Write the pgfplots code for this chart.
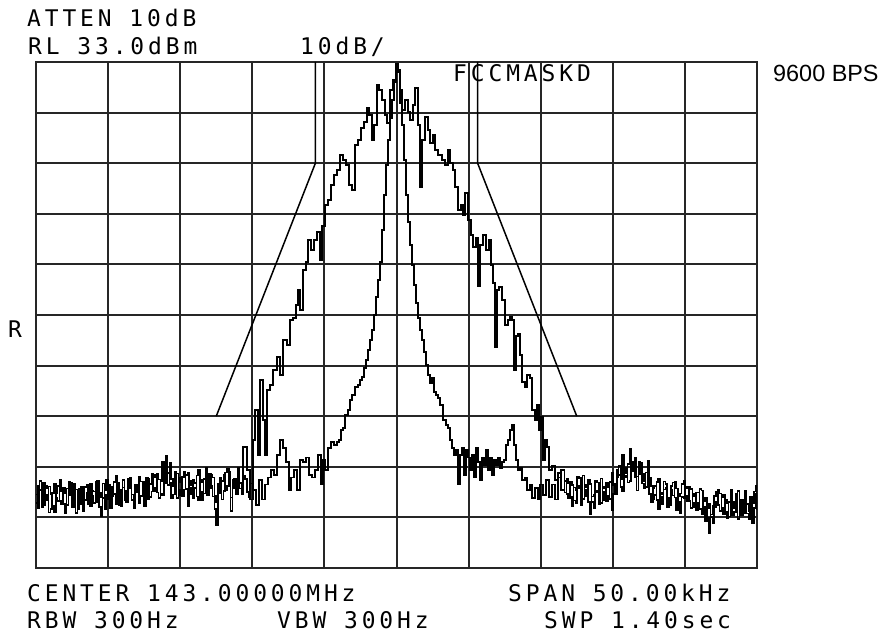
\documentclass[border=0pt]{standalone}
\usepackage{pgfplots}
\pgfplotsset{compat=1.18}
\usepackage{fontspec}
\newfontfamily\hpfont{DejaVu Sans Mono}[LetterSpace=17]
\newfontfamily\arialfont{Liberation Sans}
\newcommand{\hp}{\hpfont\fontsize{23}{26}\selectfont}
\begin{document}
\begin{tikzpicture}[x=1bp,y=1bp]
\useasboundingbox (0,0) rectangle (892,637);
\begin{axis}[
  at={(36bp,69bp)}, anchor=south west,
  scale only axis, width=721bp, height=506bp,
  xmin=-25, xmax=25, ymin=-67, ymax=33,
  xtick={-25,-20,...,25}, ytick={-67,-57,...,33},
  xticklabels={}, yticklabels={},
  major tick length=0pt,
  grid=major,
  major grid style={draw=black!85, line width=2bp},
  axis line style={draw=black!85, line width=2.1bp},
  clip=true,
]
% FCC mask D
\addplot[black, line width=1.5bp] coordinates {(-12.5,-37) (-5.625,13) (-5.625,33)};
\addplot[black, line width=1.5bp] coordinates {(12.5,-37) (5.625,13) (5.625,33)};
% wide (9600 BPS modulated) trace
\addplot[const plot, black, line width=1.6bp] coordinates {
(-25,-52.5) (-24.875,-55.1) (-24.75,-49.8) (-24.625,-52.9) (-24.5,-54.6) (-24.375,-50.7) (-24.25,-51.2) (-24.125,-56.0)
(-24,-55.3) (-23.875,-52.2) (-23.75,-50.4) (-23.625,-53.1) (-23.5,-53.8) (-23.375,-49.6) (-23.25,-51.9) (-23.125,-54.4)
(-23,-56.2) (-22.875,-51.3) (-22.75,-52.7) (-22.625,-50.2) (-22.5,-54.9) (-22.375,-53.0) (-22.25,-51.5) (-22.125,-55.4)
(-22,-53.3) (-21.875,-50.9) (-21.75,-55.8) (-21.625,-53.6) (-21.5,-52.1) (-21.375,-54.3) (-21.25,-50.3) (-21.125,-52.8)
(-21,-54.2) (-20.875,-49.9) (-20.75,-52.6) (-20.625,-55.0) (-20.5,-56.8) (-20.375,-53.2) (-20.25,-51.7) (-20.125,-49.5)
(-20,-53.5) (-19.875,-55.2) (-19.75,-50.9) (-19.625,-52.4) (-19.5,-54.4) (-19.375,-50.1) (-19.25,-52) (-19.125,-54.7)
(-19,-49.6) (-18.875,-51.8) (-18.75,-53.9) (-18.625,-49.3) (-18.5,-51.3) (-18.375,-53.6) (-18.25,-55.1) (-18.125,-52.0)
(-18,-50.7) (-17.875,-54.1) (-17.75,-52.8) (-17.625,-50.0) (-17.5,-54.7) (-17.375,-51.6) (-17.25,-49.4) (-17.125,-53.0)
(-17,-51.9) (-16.875,-49.0) (-16.75,-48.6) (-16.625,-52.1) (-16.5,-53.2) (-16.375,-49.8) (-16.25,-46.1) (-16.125,-50.3)
(-16,-44.9) (-15.875,-48.2) (-15.75,-50.2) (-15.625,-53.3) (-15.5,-52.5) (-15.375,-49.1) (-15.25,-48.3) (-15.125,-52.7)
(-15,-51.6) (-14.875,-49.0) (-14.75,-47.9) (-14.625,-51.4) (-14.5,-54.8) (-14.375,-50.6) (-14.25,-49.7) (-14.125,-53.2)
(-14,-51.2) (-13.875,-48.7) (-13.75,-47.5) (-13.625,-51.9) (-13.5,-53.6) (-13.375,-49.4) (-13.25,-50.1) (-13.125,-52.6)
(-13,-48.4) (-12.875,-50.8) (-12.75,-52.9) (-12.625,-55.4) (-12.5,-58.6) (-12.375,-51.0) (-12.25,-49.2) (-12.125,-53.5)
(-12,-51.8) (-11.875,-48.1) (-11.75,-47.3) (-11.625,-50.9) (-11.5,-53.1) (-11.375,-49.5) (-11.25,-50.6) (-11.125,-52.2)
(-11,-48.9) (-10.875,-51.3) (-10.75,-52.4)
(-10.64,-43.1) (-10.37,-47.6) (-10.16,-53.5) (-9.95,-41.7) (-9.81,-35.8) (-9.6,-44.7) (-9.47,-29.8) (-9.26,-37.7)
(-9.12,-44.7) (-8.98,-31.8) (-8.77,-30.8) (-8.56,-27.9) (-8.29,-25.3) (-8.08,-28.8) (-7.87,-21.9) (-7.59,-22.9)
(-7.38,-18) (-7.17,-17.6) (-6.97,-15) (-6.83,-12.1) (-6.69,-16) (-6.48,-8.1) (-6.27,-6.5) (-6.14,-2.2)
(-5.93,-4.2) (-5.72,-2.2) (-5.51,-0.6) (-5.3,-6.1) (-5.17,0.6) (-4.96,4.7) (-4.75,5.7) (-4.54,8.7)
(-4.33,10.7) (-4.13,11.7) (-3.92,14.6) (-3.71,13.6) (-3.5,12.6) (-3.29,8.7) (-3.09,7.7) (-2.88,16.6)
(-2.67,17.6) (-2.46,20) (-2.25,21.1) (-2.05,23.9) (-1.91,22.5) (-1.7,17.6) (-1.56,20.5) (-1.35,28.5)
(-1.21,27.5) (-1,25.5) (-0.8,22.5) (-0.66,20.9) (-0.45,27.5) (-0.24,29.4) (-0.03,32.6) (0.1,31.4)
(0.24,24.9) (0.38,23.5) (0.59,25.5) (0.8,23.1) (0.94,21.5) (1.15,24.5) (1.28,27.9) (1.49,20.5)
(1.63,8.3) (1.77,17.6) (1.98,22.1) (2.19,19.6) (2.32,17) (2.53,18.6) (2.67,15.6) (2.88,14.6)
(3.16,13.6) (3.36,12.6) (3.57,15.6) (3.71,13) (3.92,11.7) (4.06,8.3) (4.27,3.8) (4.47,4.8)
(4.61,2.8) (4.75,7.1) (4.96,1.8) (5.17,-1.2) (5.31,-3.6) (5.52,-1.8) (5.65,-11.4) (5.79,-3.2)
(6,-1.2) (6.21,-4.2) (6.42,-2.2) (6.55,-7.1) (6.69,-10.7) (6.83,-23.3) (6.97,-12.1) (7.11,-11.5)
(7.32,-14) (7.52,-19) (7.73,-18) (7.87,-17.4) (8,-18) (8.15,-27.9) (8.29,-21.2) (8.42,-20.8)
(8.56,-24.9) (8.7,-30.2) (8.91,-31.2) (9.05,-28.8) (9.26,-29.4) (9.4,-35.8) (9.6,-37.7) (9.74,-34.8)
(9.88,-39.7) (10.02,-37.1) (10.16,-45.6) (10.3,-41.7) (10.44,-43.1) (10.58,-47.6) (10.78,-46.9) (10.99,-49.6)
(11.2,-48.2) (11.41,-51.6)
(11.65,-49.8) (11.775,-52.4) (11.9,-53.2) (12.025,-49.9) (12.15,-50.6) (12.275,-53.7) (12.4,-54.1) (12.525,-50.8)
(12.65,-51.3) (12.775,-54.5) (12.9,-48.7) (13.025,-51.5) (13.15,-52.9) (13.275,-49.6) (13.4,-50.4) (13.525,-53.9)
(13.65,-55.2) (13.775,-52.0) (13.9,-51.8) (14.025,-54.3) (14.15,-49.3) (14.275,-51.9) (14.4,-53.6) (14.525,-50.2)
(14.65,-51.1) (14.775,-53.4) (14.9,-48.2) (15.025,-50.6) (15.15,-52.4) (15.275,-49.0) (15.4,-46.9) (15.525,-49.5)
(15.65,-44.6) (15.775,-48.8) (15.9,-49.1) (16.025,-46.4) (16.15,-43.4) (16.275,-47.0) (16.4,-47.8) (16.525,-45.3)
(16.65,-51.7) (16.775,-48.5) (16.9,-46.2) (17.025,-49.9) (17.15,-48.3) (17.275,-51.0) (17.4,-45.9) (17.525,-49.2)
(17.65,-50.8) (17.775,-53.5) (17.9,-52.6) (18.025,-50.0) (18.15,-49.4) (18.275,-52.9) (18.4,-54.3) (18.525,-51.5)
(18.65,-51.2) (18.775,-55.0) (18.9,-53.7) (19.025,-50.8) (19.15,-50.1) (19.275,-53.1) (19.4,-55.6) (19.525,-52.8)
(19.65,-52.3) (19.775,-50.4) (19.9,-49.7) (20.025,-52.7) (20.15,-53.8) (20.275,-51.0) (20.4,-51.4) (20.525,-54.2)
(20.65,-54.9) (20.775,-52.1) (20.9,-52.1) (21.025,-55.4) (21.15,-56.3) (21.275,-53.8) (21.4,-53.2) (21.525,-57.0)
(21.65,-60.1) (21.775,-56.4) (21.9,-54.8) (22.025,-52.8) (22.15,-51.9) (22.275,-54.6) (22.4,-55.7) (22.525,-53.0)
(22.65,-52.6) (22.775,-55.9) (22.9,-57.1) (23.025,-54.0) (23.15,-53.4) (23.275,-56.5) (23.4,-55.9) (23.525,-52.7)
(23.65,-51.8) (23.775,-54.6) (23.9,-56.6) (24.025,-53.8) (24.15,-53.1) (24.275,-56.2) (24.4,-57.4) (24.525,-54.5)
(24.65,-54.2) (24.775,-51.9) (24.9,-50.7) (25,-55.5)
};
% narrow (carrier) trace
\addplot[const plot, black, line width=1.6bp] coordinates {
(-25,-54.1) (-24.875,-50.8) (-24.75,-51.6) (-24.625,-54.9) (-24.5,-50.2) (-24.375,-52.6) (-24.25,-53.7) (-24.125,-50.9)
(-24,-52.4) (-23.875,-54.8) (-23.75,-55.9) (-23.625,-52.3) (-23.5,-50.8) (-23.375,-53.7) (-23.25,-54.3) (-23.125,-51.2)
(-23,-52.2) (-22.875,-54.6) (-22.75,-49.9) (-22.625,-52.5) (-22.5,-53.6) (-22.375,-50.4) (-22.25,-56.1) (-22.125,-53.0)
(-22,-51.4) (-21.875,-54.4) (-21.75,-53.9) (-21.625,-51.0) (-21.5,-50.5) (-21.375,-53.3) (-21.25,-54.8) (-21.125,-51.8)
(-21,-51.9) (-20.875,-54.0) (-20.75,-49.7) (-20.625,-52.2) (-20.5,-53.1) (-20.375,-50.3) (-20.25,-55.4) (-20.125,-52.6)
(-20,-50.6) (-19.875,-53.8) (-19.75,-52.9) (-19.625,-50.0) (-19.5,-48.8) (-19.375,-51.9) (-19.25,-54.5) (-19.125,-51.6)
(-19,-51.1) (-18.875,-53.7) (-18.75,-52.3) (-18.625,-50.0) (-18.5,-49.2) (-18.375,-52.5) (-18.25,-53.4) (-18.125,-50.6)
(-18,-51.7) (-17.875,-48.9) (-17.75,-49.9) (-17.625,-52.7) (-17.5,-51.4) (-17.375,-49.2) (-17.25,-53.5) (-17.125,-50.4)
(-17,-48.3) (-16.875,-51.9) (-16.75,-51.1) (-16.625,-48.4) (-16.5,-49.5) (-16.375,-52.4) (-16.25,-52.7) (-16.125,-49.0)
(-16,-47.8) (-15.875,-50.6) (-15.75,-46.3) (-15.625,-49.4) (-15.5,-50.9) (-15.375,-48.0) (-15.25,-53.2) (-15.125,-50.1)
(-15,-49.1) (-14.875,-52.8) (-14.75,-51.5) (-14.625,-48.6) (-14.5,-48.1) (-14.375,-51.2) (-14.25,-52.4) (-14.125,-49.5)
(-14,-50.2) (-13.875,-52.9) (-13.75,-53.7) (-13.625,-50.1) (-13.5,-49.6) (-13.375,-52.3) (-13.25,-47.2) (-13.125,-50.5)
(-13,-51.3) (-12.875,-48.5) (-12.75,-49.1) (-12.625,-52.8) (-12.5,-54) (-12.375,-50.4) (-12.25,-52.2) (-12.125,-49.8)
(-12,-48.6) (-11.875,-51.6) (-11.75,-50.8) (-11.625,-48.0) (-11.5,-55.7) (-11.375,-51.2) (-11.25,-49.3) (-11.125,-52.4)
(-11,-47.1) (-10.875,-50.2) (-10.75,-51.6) (-10.625,-48.7) (-10.5,-49.4) (-10.375,-52.0) (-10.25,-53.1) (-10.125,-50.3)
(-9.95,-51.6) (-9.74,-54.5) (-9.54,-49.6) (-9.33,-53.5) (-9.12,-50.5) (-8.91,-49.1) (-8.7,-47.6) (-8.5,-48.6)
(-8.29,-44.7) (-8.08,-41.7) (-7.87,-43.3) (-7.66,-46) (-7.45,-51.6) (-7.31,-49.1) (-7.1,-47.6) (-6.9,-51.6)
(-6.69,-45.6) (-6.48,-46) (-6.27,-45.2) (-6.07,-48.6) (-5.86,-49.1) (-5.65,-47.6) (-5.44,-44.7) (-5.24,-50.5)
(-5.1,-45.6) (-4.96,-47.6) (-4.75,-43.3) (-4.54,-42.1) (-4.33,-42.7) (-4.13,-42.1) (-3.99,-41.7) (-3.85,-39.7)
(-3.71,-39.3) (-3.57,-36.8) (-3.36,-35.8) (-3.22,-33.8) (-3.09,-32.8) (-2.88,-31.2) (-2.67,-30.8) (-2.53,-29.8)
(-2.39,-29.2) (-2.25,-27.5) (-2.11,-25.9) (-1.98,-23.9) (-1.84,-22) (-1.7,-20) (-1.56,-17) (-1.42,-13.4)
(-1.28,-10.1) (-1.14,-6.5) (-1,-0.2) (-0.87,6.7) (-0.73,12.6) (-0.59,17.6) (-0.45,21.9) (-0.31,25.5)
(-0.17,29) (-0.03,32.2) (0.1,31) (0.24,27.5) (0.38,20.5) (0.52,13.6) (0.66,6.7) (0.8,1.4)
(0.94,-3.2) (1.07,-7.1) (1.21,-11.1) (1.35,-14.6) (1.49,-17.6) (1.63,-20) (1.77,-21.9) (1.91,-24.3)
(2.05,-26.9) (2.19,-28.8) (2.32,-30.4) (2.46,-29.4) (2.6,-32.2) (2.74,-32.8) (2.88,-33.4) (3.02,-34.8)
(3.22,-37.7) (3.43,-38.7) (3.57,-39.3) (3.71,-41.7) (3.85,-43.3) (3.99,-44.7) (4.13,-43.7) (4.27,-50.5)
(4.4,-44.7) (4.54,-43.3) (4.68,-48.6) (4.82,-43.7) (4.96,-45.2) (5.1,-47.6) (5.24,-44.7) (5.38,-49.1)
(5.52,-43.3) (5.65,-46) (5.79,-49.6) (5.93,-45.2) (6.07,-46.6) (6.21,-43.7) (6.35,-47.6) (6.48,-45.2)
(6.62,-48.6) (6.76,-45.6) (6.9,-46.6) (7.04,-45.2) (7.18,-47.2) (7.32,-46) (7.46,-45.6) (7.59,-42.7)
(7.73,-41.7) (7.87,-39.7) (8.01,-38.7) (8.15,-42.7) (8.29,-45.6) (8.42,-47.6) (8.56,-47.2) (8.7,-49.6)
(8.91,-49.1) (9.05,-51.6) (9.26,-50.5) (9.4,-53.2) (9.6,-51.2) (9.81,-53.5) (9.95,-50.5) (10.16,-52.6)
(10.37,-49.6) (10.58,-53) (10.78,-50.5) (10.99,-53.5) (11.2,-49.1) (11.41,-47.6)
(11.65,-52.1) (11.775,-49.4) (11.9,-50.2) (12.025,-53.0) (12.15,-54.7) (12.275,-51.1) (12.4,-51.6) (12.525,-48.9)
(12.65,-49.2) (12.775,-52.2) (12.9,-53.4) (13.025,-50.5) (13.15,-51) (13.275,-54.0) (13.4,-56.4) (13.525,-52.9)
(13.65,-52.5) (13.775,-49.8) (13.9,-50.1) (14.025,-52.6) (14.15,-54.2) (14.275,-51.3) (14.4,-50.9) (14.525,-53.8)
(14.65,-52.8) (14.775,-50.0) (14.9,-55.6) (15.025,-52.3) (15.15,-50.3) (15.275,-47.5) (15.4,-48.6) (15.525,-51.0)
(15.65,-51.9) (15.775,-48.3) (15.9,-47.2) (16.025,-50.1) (16.15,-49.8) (16.275,-46.8) (16.4,-46.1) (16.525,-49.0)
(16.65,-48.9) (16.775,-46.0) (16.9,-47.4) (17.025,-50.3) (17.15,-51.2) (17.275,-48.1) (17.4,-49.6) (17.525,-52.4)
(17.65,-53.9) (17.775,-51.3) (17.9,-50.8) (18.025,-53.6) (18.15,-55.3) (18.275,-52.4) (18.4,-52.1) (18.525,-49.9)
(18.65,-50.4) (18.775,-53.2) (18.9,-54.6) (19.025,-51.5) (19.15,-52.7) (19.275,-49.9) (19.4,-51.3) (19.525,-54.0)
(19.65,-56.2) (19.775,-53.0) (19.9,-53.3) (20.025,-51.2) (20.15,-50.9) (20.275,-53.7) (20.4,-55.1) (20.525,-52.3)
(20.65,-52.8) (20.775,-55.6) (20.9,-54.1) (21.025,-51.4) (21.15,-51.7) (21.275,-54.9) (21.4,-57.8) (21.525,-55.1)
(21.65,-54.4) (21.775,-56.9) (21.9,-58.2) (22.025,-55.0) (22.15,-53.9) (22.275,-51.5) (22.4,-52.3) (22.525,-55.2)
(22.65,-56.4) (22.775,-53.5) (22.9,-54.1) (23.025,-56.8) (23.15,-51.6) (23.275,-53.9) (23.4,-55.2) (23.525,-52.4)
(23.65,-57.3) (23.775,-54.6) (23.9,-53.5) (24.025,-56.1) (24.15,-51.8) (24.275,-54.3) (24.4,-55.8) (24.525,-53.0)
(24.65,-58.1) (24.775,-55.2) (24.9,-52.4) (25,-54.3)
};
\end{axis}
\node[anchor=base west, inner sep=0] at (27,610) {\hp ATTEN 10dB};
\node[anchor=base west, inner sep=0] at (28,582) {\hp RL 33.0dBm};
\node[anchor=base west, inner sep=0] at (300,582) {\hp 10dB/};
\node[anchor=base west, inner sep=0] at (453,555) {\hp FCCMASKD};
\node[anchor=base west, inner sep=0] at (773,555) {\arialfont\fontsize{23.5}{26}\selectfont 9600 BPS};
\node[anchor=base west, inner sep=0] at (8,299) {\hp R};
\node[anchor=base west, inner sep=0] at (27,35) {\hp CENTER 143.00000MHz};
\node[anchor=base west, inner sep=0] at (508,35) {\hp SPAN 50.00kHz};
\node[anchor=base west, inner sep=0] at (27,8) {\hp RBW 300Hz};
\node[anchor=base west, inner sep=0] at (277,8) {\hp VBW 300Hz};
\node[anchor=base west, inner sep=0] at (544,8) {\hp SWP 1.40sec};
\end{tikzpicture}
\end{document}
